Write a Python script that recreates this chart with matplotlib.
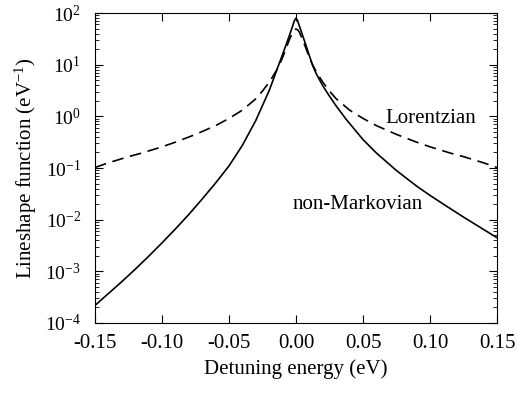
import numpy as np
import matplotlib
matplotlib.use("Agg")
import matplotlib.pyplot as plt
from matplotlib.ticker import LogLocator, LogFormatterMathtext, NullLocator

plt.rcParams['font.family'] = 'Liberation Serif'
plt.rcParams['mathtext.fontset'] = 'custom'
plt.rcParams['mathtext.rm'] = 'Liberation Serif'
plt.rcParams['mathtext.it'] = 'Liberation Serif:italic'
plt.rcParams['axes.unicode_minus'] = False

# Lorentzian (dashed), log10 of lineshape
lor_x = [-0.15, -0.14, -0.125, -0.115, -0.1, -0.09, -0.075, -0.06, -0.05, -0.04,
         -0.03, -0.025, -0.02, -0.015, -0.0125, -0.01, -0.0075, -0.005, -0.0025, -0.00125, 0.0,
         0.00125, 0.0025, 0.005, 0.0075, 0.01, 0.0125, 0.015, 0.02, 0.025, 0.03, 0.04,
         0.05, 0.06, 0.075, 0.09, 0.1, 0.115, 0.125, 0.14, 0.15]
lor_log = [-0.99, -0.90, -0.78, -0.71, -0.59, -0.50, -0.35, -0.18, -0.04, 0.12,
           0.34, 0.49, 0.66, 0.87, 0.99, 1.14, 1.31, 1.48, 1.63, 1.675, 1.69,
           1.675, 1.63, 1.48, 1.31, 1.14, 0.99, 0.87, 0.66, 0.49, 0.34, 0.12,
           -0.04, -0.18, -0.35, -0.50, -0.59, -0.71, -0.78, -0.90, -0.99]

# non-Markovian (solid), log10 of lineshape
nm_x = [-0.15, -0.14, -0.13, -0.12, -0.11, -0.1, -0.09, -0.08, -0.07, -0.06,
        -0.05, -0.04, -0.03, -0.02, -0.01, -0.0075, -0.005, -0.0025, -0.00125, 0.0,
        0.00125, 0.0025, 0.005, 0.0075, 0.01, 0.0125, 0.015, 0.02, 0.025, 0.03,
        0.0375, 0.05, 0.06, 0.075, 0.09, 0.1, 0.11, 0.125, 0.14, 0.15]
nm_log = [-3.66, -3.43, -3.20, -2.96, -2.71, -2.45, -2.18, -1.90, -1.60, -1.29,
          -0.96, -0.56, -0.08, 0.50, 1.20, 1.38, 1.56, 1.75, 1.85, 1.90,
          1.85, 1.75, 1.56, 1.37, 1.17, 0.98, 0.83, 0.59, 0.39, 0.20,
          -0.06, -0.45, -0.71, -1.05, -1.35, -1.53, -1.70, -1.95, -2.19, -2.35]

fig = plt.figure(figsize=(5.21, 3.97), dpi=100)
ax = fig.add_axes([0.1823, 0.1864, 0.7717, 0.7808])

ax.plot(lor_x, 10.0 ** np.array(lor_log), color='black', lw=1.2, ls=(0, (7, 4)))
ax.plot(nm_x, 10.0 ** np.array(nm_log), color='black', lw=1.2)

ax.set_yscale('log')
ax.set_xlim(-0.15, 0.15)
ax.set_ylim(1e-4, 1e2)

ax.set_xticks([-0.15, -0.10, -0.05, 0.0, 0.05, 0.10, 0.15])
ax.set_xticklabels(['-0.15', '-0.10', '-0.05', '0.00', '0.05', '0.10', '0.15'])
ax.xaxis.set_minor_locator(NullLocator())
ax.yaxis.set_major_locator(LogLocator(base=10, numticks=10))
ax.yaxis.set_minor_locator(LogLocator(base=10, subs=np.arange(2, 10), numticks=10))
ax.yaxis.set_major_formatter(LogFormatterMathtext())

ax.tick_params(which='both', direction='in', top=True, right=True)
ax.tick_params(which='major', length=6, width=0.8)
ax.tick_params(which='minor', length=3, width=0.6)
ax.tick_params(axis='x', labelsize=15, pad=8)
ax.tick_params(axis='y', labelsize=14, pad=10)

ax.set_xlabel('Detuning energy (eV)', fontsize=15)
ax.set_ylabel('Lineshape function (eV$^{-1}$)', fontsize=15)
ax.xaxis.set_label_coords(0.5, -0.118)
ax.yaxis.set_label_coords(-0.14, 0.5)

ax.text(0.1007, 0.89, 'Lorentzian', fontsize=15, ha='center', va='center')
ax.text(0.046, 0.0195, 'non-Markovian', fontsize=15, ha='center', va='center')

fig.savefig('out.png', dpi=100)
